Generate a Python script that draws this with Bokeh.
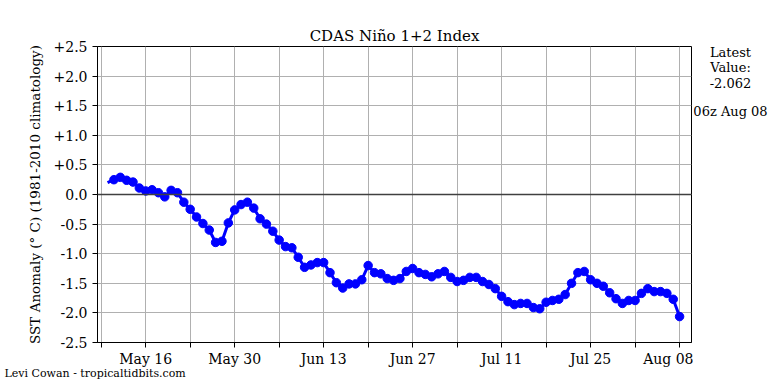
import pandas as pd
from bokeh.plotting import figure
from bokeh.layouts import row
from bokeh.models import FixedTicker, Range1d, Span, Title
from bokeh.core.properties import value
from bokeh.embed import file_html
from bokeh.resources import INLINE

# ---- data ----
start_date = "2025-05-10"
anomaly = [0.20,
           0.25, 0.29, 0.24, 0.21, 0.11, 0.06, 0.08, 0.03, -0.04, 0.07,
           0.03, -0.13, -0.25, -0.38, -0.49, -0.60, -0.81, -0.79, -0.48, -0.26,
           -0.17, -0.13, -0.23, -0.41, -0.50, -0.62, -0.77, -0.88, -0.90, -1.06,
           -1.23, -1.19, -1.15, -1.15, -1.32, -1.49, -1.58, -1.51, -1.51, -1.44,
           -1.20, -1.32, -1.34, -1.42, -1.45, -1.42, -1.30, -1.25, -1.32, -1.35,
           -1.39, -1.34, -1.30, -1.40, -1.47, -1.45, -1.40, -1.40, -1.47, -1.52,
           -1.59, -1.72, -1.81, -1.86, -1.84, -1.84, -1.91, -1.93, -1.82, -1.79,
           -1.77, -1.69, -1.50, -1.32, -1.30, -1.44, -1.50, -1.55, -1.66, -1.76,
           -1.84, -1.79, -1.79, -1.67, -1.59, -1.64, -1.64, -1.67, -1.77, -2.062]
x_ticks = ["2025-05-09", "2025-05-16", "2025-05-23", "2025-05-30", "2025-06-06",
           "2025-06-13", "2025-06-20", "2025-06-27", "2025-07-04", "2025-07-11",
           "2025-07-18", "2025-07-25", "2025-08-01", "2025-08-08"]
x_tick_labels = ["", "May 16", "", "May 30", "", "Jun 13", "", "Jun 27", "",
                 "Jul 11", "", "Jul 25", "", "Aug 08"]
y_ticks = [-2.5, -2.0, -1.5, -1.0, -0.5, 0.0, 0.5, 1.0, 1.5, 2.0, 2.5]
y_tick_labels = ["-2.5", "-2.0", "-1.5", "-1.0", "-0.5", "0.0",
                 "+0.5", "+1.0", "+1.5", "+2.0", "+2.5"]
side_texts = ["Latest", "Value:", "-2.062", "06z Aug 08"]
side_text_rows = [52, 67, 82, 111]   # page pixel rows of the side texts
credit = "Levi Cowan - tropicaltidbits.com"

dates = pd.date_range(start_date, periods=len(anomaly), freq="D")

FONT = "DejaVu Serif"

x_start = pd.Timestamp("2025-05-09") - pd.Timedelta(hours=14)
x_end = pd.Timestamp("2025-08-08") + pd.Timedelta(hours=45)
ms = lambda t: pd.Timestamp(t).value / 1e6

FRAME_TOP, FRAME_BOTTOM = 46, 342
MAIN_W = 693
yr = Range1d(-2.5, 2.5)
p = figure(width=MAIN_W, height=384, x_axis_type="datetime",
           output_backend="svg", toolbar_location=None,
           title="CDAS Niño 1+2 Index",
           x_range=Range1d(x_start, x_end), y_range=yr,
           min_border_left=97, min_border_right=MAIN_W - 691,
           min_border_top=FRAME_TOP, min_border_bottom=384 - FRAME_BOTTOM)

p.title.align = "center"
p.title.text_font = FONT
p.title.text_font_style = "normal"
p.title.text_font_size = "15px"
p.title.text_color = "black"
p.title.standoff = 4

p.outline_line_color = "black"
p.outline_line_width = 1
p.outline_line_alpha = 1

# grids
p.xgrid.ticker = FixedTicker(ticks=[ms(t) for t in x_ticks])
p.ygrid.ticker = FixedTicker(ticks=y_ticks)
for g in (p.xgrid, p.ygrid):
    g.grid_line_color = "#b0b0b0"
    g.grid_line_width = 1

# axes
p.xaxis.ticker = FixedTicker(ticks=[ms(t) for t in x_ticks])
p.xaxis.major_label_overrides = {ms(t): l for t, l in zip(x_ticks, x_tick_labels)}
p.yaxis.ticker = FixedTicker(ticks=y_ticks)
p.yaxis.major_label_overrides = {t: l for t, l in zip(y_ticks, y_tick_labels)}
p.yaxis.axis_label = "SST Anomaly (° C) (1981-2010 climatology)"
for ax in (p.xaxis, p.yaxis):
    ax.axis_line_color = "black"
    ax.major_tick_line_color = "black"
    ax.major_tick_out = 5
    ax.major_tick_in = 0
    ax.minor_tick_line_color = None
    ax.major_label_text_font = FONT
    ax.major_label_text_font_size = "14px"
    ax.major_label_text_color = "black"
    ax.axis_label_text_font = FONT
    ax.axis_label_text_font_size = "13.5px"
    ax.axis_label_text_font_style = "normal"
    ax.axis_label_text_color = "black"
p.xaxis.major_label_standoff = 3
p.yaxis.major_label_standoff = 5
p.yaxis.axis_label_standoff = 8

# credit below the axis
p.add_layout(Title(text=credit, align="left", offset=-93, standoff=-6,
                   vertical_align="top",
                   text_font=FONT, text_font_size="11px",
                   text_font_style="normal", text_color="black"), "below")

# zero line
p.add_layout(Span(location=0, dimension="width", line_color="#404040", line_width=1.3))

# series
p.line(dates, anomaly, line_color="#0000ff", line_width=3)
p.scatter(dates[1:], anomaly[1:], size=8.5, fill_color="#0000ff", line_color="#0000ff")

# right-hand panel with the latest value text (shares the main vertical scale)
def px_y(yp):
    return 2.5 - (yp - FRAME_TOP) / (FRAME_BOTTOM - FRAME_TOP) * 5.0

SIDE_W = 768 - MAIN_W
side = figure(width=SIDE_W, height=384, output_backend="svg", toolbar_location=None,
              x_range=Range1d(MAIN_W, 768), y_range=yr,
              min_border_left=0, min_border_right=0,
              min_border_top=FRAME_TOP, min_border_bottom=384 - FRAME_BOTTOM)
side.axis.visible = False
side.grid.visible = False
side.outline_line_color = None
side.text(x=[730] * len(side_texts), y=[px_y(r) for r in side_text_rows], text=side_texts,
          text_align="center", text_baseline="middle",
          text_font=value(FONT), text_font_size="13px", text_color="black")

layout = row(p, side, spacing=0)
open("out.html", "w").write(file_html(layout, INLINE))
